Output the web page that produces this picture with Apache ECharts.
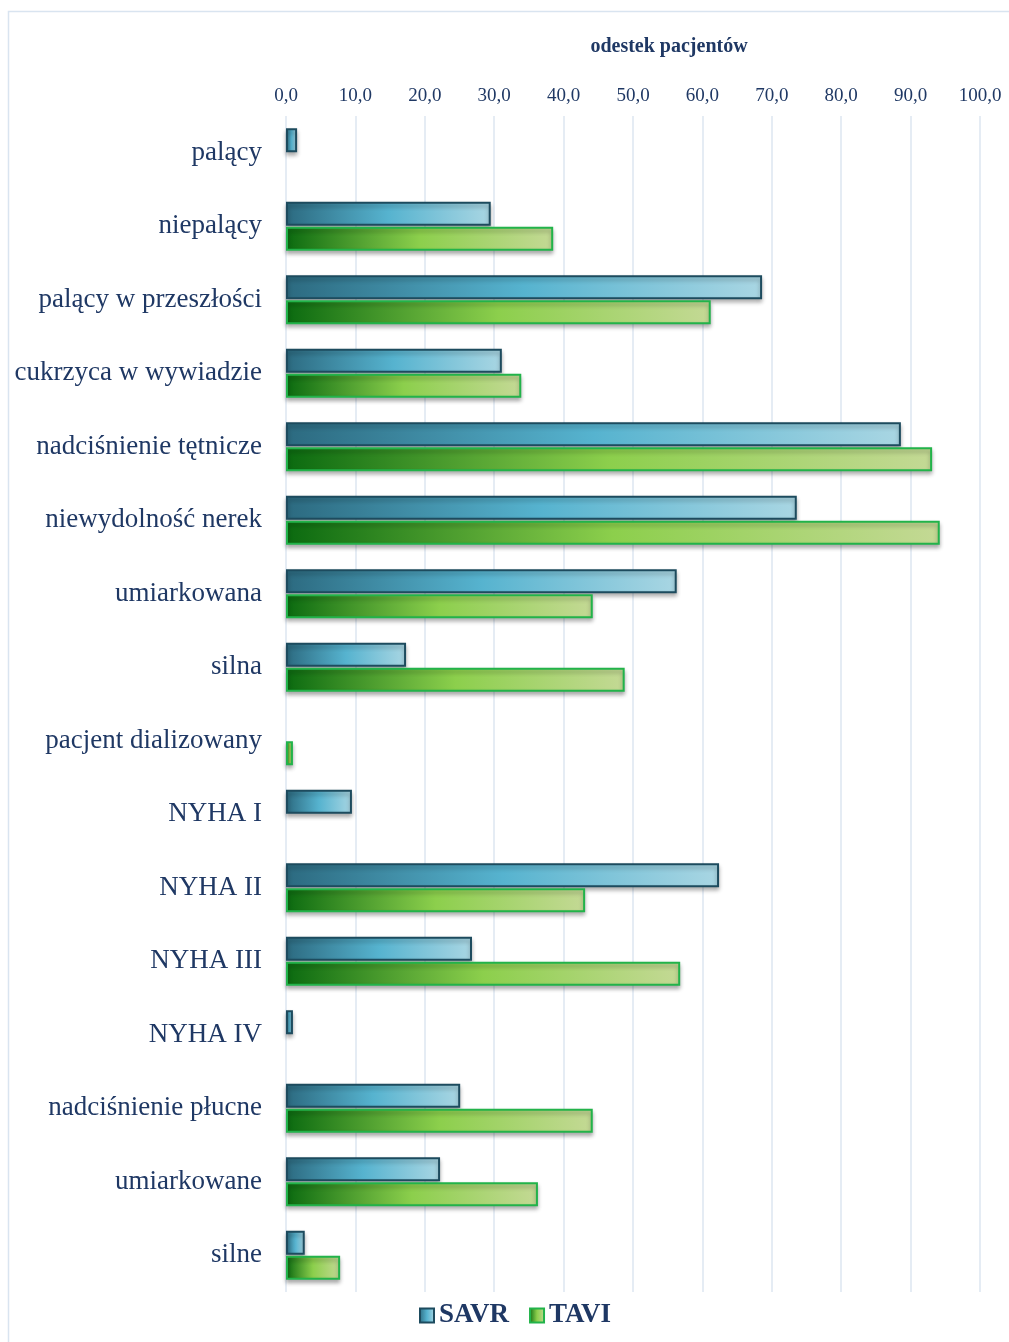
<!DOCTYPE html>
<html>
<head>
<meta charset="utf-8">
<script src="https://cdn.jsdelivr.net/npm/echarts@6/dist/echarts.min.js"></script>
<style>
  html, body { margin: 0; padding: 0; background: #ffffff; }
  #chart { width: 1009px; height: 1342px; }
</style>
</head>
<body>
<div id="chart"></div>
<script>
// Risk factors and clinical classes, top to bottom
const categories = [
  'palący', 'niepalący', 'palący w przeszłości', 'cukrzyca w wywiadzie',
  'nadciśnienie tętnicze', 'niewydolność nerek', 'umiarkowana', 'silna',
  'pacjent dializowany', 'NYHA I', 'NYHA II', 'NYHA III', 'NYHA IV',
  'nadciśnienie płucne', 'umiarkowane', 'silne'
];

// Percentage of patients in each group
const savrValues = [1.6, 29.5, 68.6, 31.1, 88.6, 73.6, 56.3, 17.3, 0, 9.5, 62.4, 26.8, 1.0, 25.1, 22.2, 2.7];
const taviValues = [0, 38.5, 61.2, 33.9, 93.1, 94.2, 44.2, 48.8, 1.0, 0, 43.1, 56.8, 0, 44.2, 36.3, 7.8];

const xTicks = [0, 10, 20, 30, 40, 50, 60, 70, 80, 90, 100];

const navy = '#1f3864';
const serif = '"Liberation Serif", "Times New Roman", serif';

const savrFill = new echarts.graphic.LinearGradient(0, 0, 1, 0, [
  { offset: 0, color: '#2c6a80' },
  { offset: 0.5, color: '#56b3cf' },
  { offset: 1, color: '#a9d6e3' }
]);
const taviFill = new echarts.graphic.LinearGradient(0, 0, 1, 0, [
  { offset: 0, color: '#0b6a10' },
  { offset: 0.5, color: '#8ccf4c' },
  { offset: 1, color: '#c4d995' }
]);

// empty groups get no outline or shadow, so nothing is drawn for them
const toItems = values => values.map(v => v === 0
  ? { value: v, itemStyle: { borderWidth: 0, shadowBlur: 0, shadowOffsetY: 0, opacity: 0 } }
  : v);

const chart = echarts.init(document.getElementById('chart'));

chart.setOption({
  backgroundColor: '#ffffff',
  animation: false,
  graphic: [{
    type: 'rect',
    shape: { x: 8.5, y: 11.5, width: 1010, height: 1340 },
    style: { fill: 'none', stroke: '#d9e4f0', lineWidth: 1.5 },
    silent: true,
    z: -10
  }],
  title: {
    text: 'odestek pacjentów',
    left: 664,
    top: 32,
    textAlign: 'center',
    textStyle: { fontFamily: serif, fontSize: 20, fontWeight: 'bold', color: navy }
  },
  legend: {
    bottom: 8,
    left: 414,
    itemWidth: 14,
    itemHeight: 14,
    itemGap: 20,
    icon: 'rect',
    textStyle: { fontFamily: serif, fontSize: 27, fontWeight: 'bold', color: navy },
    data: ['SAVR', 'TAVI']
  },
  grid: { left: 286, right: 29, top: 116, height: 1176 },
  xAxis: {
    type: 'value',
    position: 'top',
    min: xTicks[0],
    max: xTicks[xTicks.length - 1],
    interval: 10,
    axisLine: { show: false },
    axisTick: { show: false },
    splitLine: { show: true, lineStyle: { color: '#dde6f0', width: 1.5 } },
    axisLabel: {
      margin: 10,
      fontFamily: serif,
      fontSize: 19,
      color: navy,
      formatter: v => v.toFixed(1).replace('.', ',')
    }
  },
  yAxis: {
    type: 'category',
    data: categories,
    inverse: true,
    axisLine: { show: false },
    axisTick: { show: false },
    axisLabel: { margin: 24, fontFamily: serif, fontSize: 27, color: navy }
  },
  series: [
    {
      name: 'SAVR',
      type: 'bar',
      data: toItems(savrValues),
      barWidth: 24,
      barGap: '4%',
      itemStyle: {
        color: savrFill,
        borderColor: '#1d4b5e',
        borderWidth: 2,
        shadowColor: 'rgba(0,0,0,0.3)',
        shadowBlur: 4,
        shadowOffsetY: 3
      }
    },
    {
      name: 'TAVI',
      type: 'bar',
      data: toItems(taviValues),
      barWidth: 24,
      barGap: '4%',
      itemStyle: {
        color: taviFill,
        borderColor: '#22b34a',
        borderWidth: 2,
        shadowColor: 'rgba(0,0,0,0.3)',
        shadowBlur: 4,
        shadowOffsetY: 3
      }
    }
  ]
});
</script>
</body>
</html>
